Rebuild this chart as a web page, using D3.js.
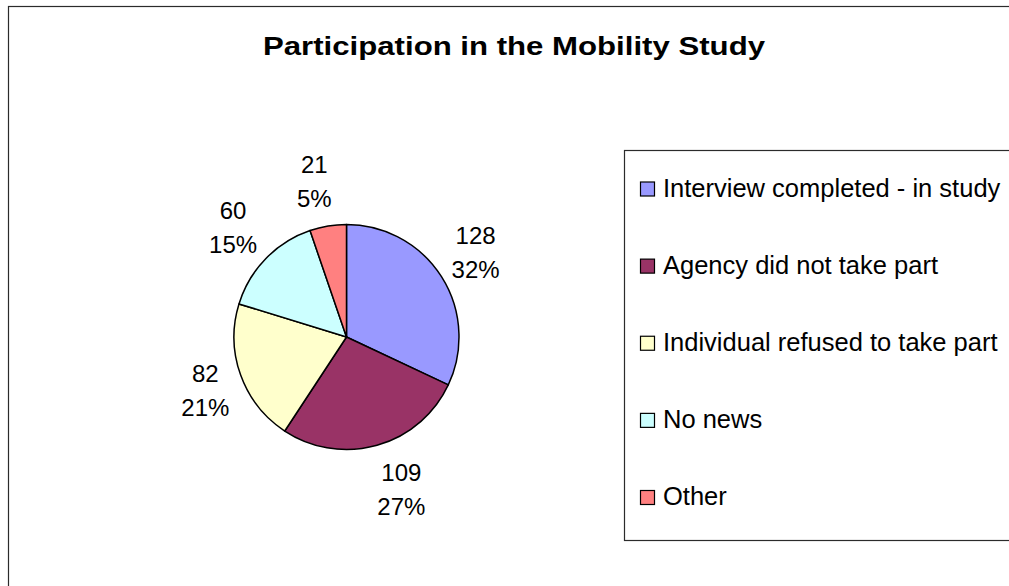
<!DOCTYPE html>
<html>
<head>
<meta charset="utf-8">
<script src="https://cdn.jsdelivr.net/npm/d3@7"></script>
<style>
  html, body { margin: 0; padding: 0; background: #fff; }
  svg { display: block; font-family: "Liberation Sans", Arial, sans-serif; }
</style>
</head>
<body>
<svg id="chart" width="1009" height="586"></svg>
<script>
// Outcome categories and participant counts
const categories = [
  "Interview completed - in study",
  "Agency did not take part",
  "Individual refused to take part",
  "No news",
  "Other"
];
const counts = [128, 109, 82, 60, 21];
const percents = ["32%", "27%", "21%", "15%", "5%"];
const colors = ["#9999FF", "#993366", "#FFFFCC", "#CCFFFF", "#FF8080"];
const title = "Participation in the Mobility Study";

const svg = d3.select("#chart");
const W = 1009, H = 586;

// Chart frame (right and bottom edges run past the canvas)
svg.append("rect")
  .attr("x", 8.5).attr("y", 6.5)
  .attr("width", W + 20).attr("height", H + 20)
  .attr("fill", "#fff").attr("stroke", "#2b2b2b").attr("stroke-width", 1.2);

// Title
svg.append("text")
  .attr("x", 514).attr("y", 55)
  .attr("text-anchor", "middle")
  .attr("font-weight", "bold")
  .attr("font-size", 26.5)
  .attr("textLength", 502)
  .attr("lengthAdjust", "spacingAndGlyphs")
  .attr("fill", "#000")
  .text(title);

// Pie
const cx = 346.5, cy = 337, R = 112.5;
const data = categories.map((c, i) => ({ cat: c, value: counts[i], pct: percents[i], color: colors[i] }));
const pie = d3.pie().sort(null).value(d => d.value).startAngle(0).endAngle(2 * Math.PI);
const arcs = pie(data);
const arc = d3.arc().innerRadius(0).outerRadius(R);

const g = svg.append("g").attr("transform", `translate(${cx},${cy})`);
g.selectAll("path.slice")
  .data(arcs)
  .join("path")
  .attr("class", "slice")
  .attr("d", arc)
  .attr("fill", d => d.data.color)
  .attr("stroke", "#000")
  .attr("stroke-width", 1.5)
  .attr("stroke-linejoin", "round");

// Data labels: value over percentage, the label box pushed out from the rim
const labelFont = 24, lineGap = 34, gap = 12, capH = 17;
arcs.forEach(a => {
  const mid = (a.startAngle + a.endAngle) / 2;
  const s = Math.sin(mid), c = -Math.cos(mid);
  const t = g.append("g");
  const l1 = t.append("text").attr("text-anchor", "middle").attr("font-size", labelFont)
    .attr("fill", "#000").text(a.data.value);
  const l2 = t.append("text").attr("text-anchor", "middle").attr("font-size", labelFont)
    .attr("fill", "#000").text(a.data.pct);
  const hw = Math.max(l1.node().getComputedTextLength(), l2.node().getComputedTextLength()) / 2;
  const hh = (capH + lineGap) / 2;
  const bx = (R + gap) * s + Math.tanh(5 * s) * hw;
  const by = (R + gap) * c + c * (hh + 8);
  l1.attr("x", bx).attr("y", by - hh + capH);
  l2.attr("x", bx).attr("y", by - hh + capH + lineGap);
});

// Legend box (right edge runs past the canvas)
const legend = svg.append("g");
legend.append("rect")
  .attr("x", 624.5).attr("y", 150.5)
  .attr("width", W).attr("height", 390)
  .attr("fill", "#fff").attr("stroke", "#2b2b2b").attr("stroke-width", 1.2);

const ly = d3.scalePoint().domain(categories).range([189, 497.5]);
const items = legend.selectAll("g.item").data(data).join("g").attr("class", "item")
  .attr("transform", d => `translate(0,${ly(d.cat)})`);
items.append("rect")
  .attr("x", 640.5).attr("y", -7)
  .attr("width", 14).attr("height", 14)
  .attr("fill", d => d.color).attr("stroke", "#000").attr("stroke-width", 1.2);
items.append("text")
  .attr("x", 663).attr("y", 7.5)
  .attr("font-size", 25.5)
  .attr("fill", "#000")
  .text(d => d.cat);
</script>
</body>
</html>
